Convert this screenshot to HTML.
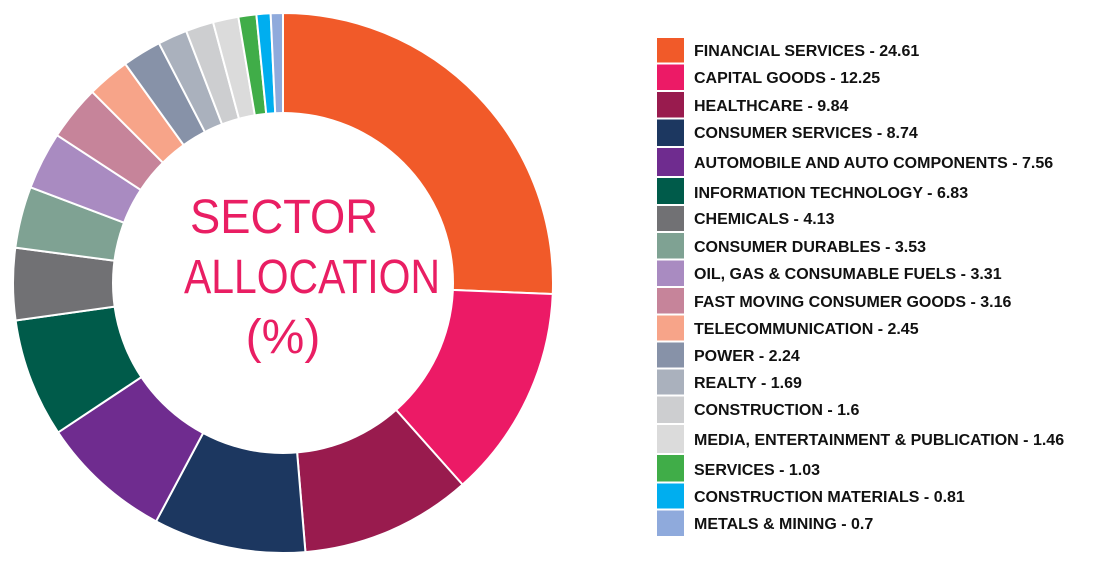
<!DOCTYPE html>
<html><head><meta charset="utf-8"><style>
html,body{margin:0;padding:0;background:#fff;width:1094px;height:566px;overflow:hidden}
</style></head><body>
<svg id="s" width="1094" height="566" xmlns="http://www.w3.org/2000/svg" font-family="'Liberation Sans', sans-serif">
<g id="pie"></g>
<circle cx="283" cy="283" r="171" fill="#fff"/>
<g fill="#E91E63" font-size="48" text-anchor="middle">
<text x="284" y="233" textLength="188" lengthAdjust="spacingAndGlyphs">SECTOR</text>
<text x="312" y="293" textLength="256" lengthAdjust="spacingAndGlyphs">ALLOCATION</text>
<text x="283" y="353">(%)</text>
</g>
<g id="leg" font-size="16" font-weight="bold" fill="#111"></g>
</svg>
<script>
var d=[["FINANCIAL SERVICES",24.61,"#F15A29"],["CAPITAL GOODS",12.25,"#EC1A66"],["HEALTHCARE",9.84,"#991B4E"],["CONSUMER SERVICES",8.74,"#1C3760"],["AUTOMOBILE AND AUTO COMPONENTS",7.56,"#6F2C8F"],["INFORMATION TECHNOLOGY",6.83,"#005B4A"],["CHEMICALS",4.13,"#717174"],["CONSUMER DURABLES",3.53,"#7FA293"],["OIL, GAS & CONSUMABLE FUELS",3.31,"#A98BC1"],["FAST MOVING CONSUMER GOODS",3.16,"#C6849A"],["TELECOMMUNICATION",2.45,"#F7A489"],["POWER",2.24,"#8792A8"],["REALTY",1.69,"#AAB1BD"],["CONSTRUCTION",1.6,"#CDCED0"],["MEDIA, ENTERTAINMENT & PUBLICATION",1.46,"#DBDBDB"],["SERVICES",1.03,"#40AD48"],["CONSTRUCTION MATERIALS",0.81,"#00AEEF"],["METALS & MINING",0.7,"#8FAADC"]];
var tot=0;d.forEach(function(e){tot+=e[1]});
var cx=283,cy=283,R=270,a=0,h="";
d.forEach(function(e){var b=a+e[1]/tot*2*Math.PI;
var x1=cx+R*Math.sin(a),y1=cy-R*Math.cos(a),x2=cx+R*Math.sin(b),y2=cy-R*Math.cos(b);
h+='<path d="M'+cx+','+cy+'L'+x1+','+y1+'A'+R+','+R+' 0 '+((b-a)>Math.PI?1:0)+' 1 '+x2+','+y2+'Z" fill="'+e[2]+'" stroke="#fff" stroke-width="2"/>';a=b;});
document.getElementById("pie").innerHTML=h;
var ys=[50,77,105,132,162,192,218,246,273,301,328,355,382,409,439,469,496,523];
var bd=[37];for(var i=0;i<17;i++)bd.push((ys[i]+ys[i+1])/2);bd.push(537);
var g="";
d.forEach(function(e,i){g+='<rect x="657" y="'+(bd[i]+1)+'" width="27" height="'+(bd[i+1]-bd[i]-2)+'" fill="'+e[2]+'"/>';
g+='<text x="694" y="'+(ys[i]+6)+'">'+e[0].replace(/&/g,"&amp;")+' - '+e[1]+'</text>';});
document.getElementById("leg").innerHTML=g;
</script>
</body></html>
